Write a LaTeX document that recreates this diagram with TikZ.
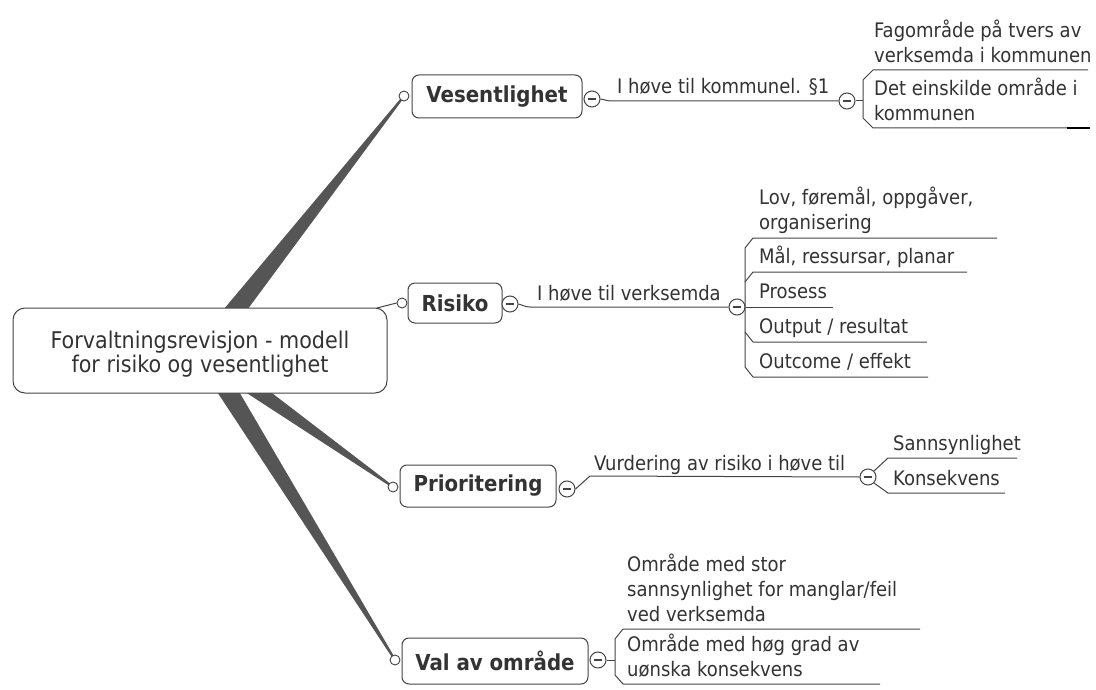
\documentclass[tikz,border=0pt]{standalone}
\usepackage{fontspec}
\setmainfont{DejaVu Sans Condensed}
\usetikzlibrary{calc}
\definecolor{txt}{HTML}{333333}
\definecolor{ln}{HTML}{444444}
\definecolor{wd}{HTML}{555555}
\newcommand\branchwedge[3]{%
  \coordinate (wB) at ($(#1)!1.2!(#2)$);
  \fill[wedge] ($(#1)!1pt!90:(#2)$) -- ($(wB)!#3!-90:(#1)$) -- ($(wB)!#3!90:(#1)$) -- ($(#1)!1pt!-90:(#2)$) -- cycle;}
\begin{document}
\begin{tikzpicture}[x=1pt,y=-1pt,
  central/.style={draw=ln, line width=1pt, rounded corners=12pt, fill=white, minimum width=374pt, minimum height=85pt, inner sep=0},
  centraltext/.style={align=center, font=\fontsize{23}{24}\selectfont, text=txt, inner sep=0},
  topic/.style={draw=ln, line width=1pt, rounded corners=7pt, fill=white, font=\bfseries\fontsize{22}{25}\selectfont, text=txt, inner sep=0},
  sub/.style={anchor=south west, align=left, inner sep=0, font=\fontsize{20}{25}\selectfont, text=txt},
  lbl/.style={anchor=base west, inner sep=0, font=\fontsize{20}{25}\selectfont, text=txt},
  knob/.style={circle, draw=ln, line width=0.9pt, fill=white, minimum size=10pt, inner sep=0},
  minus/.style={circle, draw=ln, line width=1pt, fill=white, minimum size=16pt, inner sep=0,
    path picture={\draw[ln, line width=1.3pt] ([xshift=-4pt]path picture bounding box.center) -- ([xshift=4pt]path picture bounding box.center);}},
  conn/.style={draw=ln, line width=1pt},
  wedge/.style={fill=wd, draw=none}
]
\useasboundingbox (0,0) rectangle (1096,690);
\fill[white] (0,0) rectangle (1096,690);

\coordinate (tves) at (404,96);
\coordinate (tpri) at (393,487);
\coordinate (tval) at (395,660);
\coordinate (eves) at (237,308);
\coordinate (epri) at (260,393);
\coordinate (eval) at (229,393);
\branchwedge{tves}{eves}{11pt}
\branchwedge{tpri}{epri}{8.5pt}
\branchwedge{tval}{eval}{11pt}

% central topic
\node[central] (root) at (200,350.5) {};
\node[centraltext] (roottxt) at (200,354) {Forvaltningsrevisjon - modell\\for risiko og vesentlighet};
\coordinate (rootTR) at (377,308);

% ---------- Vesentlighet ----------
\node[topic, minimum width=170pt, minimum height=43pt] (ves) at (497,96.5) {Vesentlighet};
\node[knob] (kves) at (tves) {};
\node[minus] (mves) at (592,99) {};
\node[minus] (cves) at (847,101) {};
\draw[conn] (mves.east) to[out=-10,in=180] (612,101) -- (cves.west);
\node[lbl] (lves) at (617,94) {I høve til kommunel. §1};
\draw[conn] (cves.east) -- (863,101);
\draw[conn] (1088,70) -- (873,70) -- (863,80) -- (863,118) -- (873,128) -- (1090,128);
\draw[line width=2.5pt, black] (1067,128) -- (1090,128);
\node[sub] (fag) at (874,70) {Fagområde på tvers av\\verksemda i kommunen\strut};
\node[sub] (det) at (874,128) {Det einskilde område i\\kommunen\strut};

% ---------- Risiko ----------
\node[topic, minimum width=94pt, minimum height=40pt] (ris) at (455,303) {Risiko};
\node[knob] (kris) at (402,303) {};
\draw[conn] (rootTR) -- (kris.west);
\node[minus] (mris) at (510,304) {};
\node[minus] (cris) at (737,307) {};
\draw[conn] (mris.east) to[out=-15,in=180] (530,307) -- (cris.west);
\node[lbl] (lris) at (537,300) {I høve til verksemda};
\draw[conn] (997,238) -- (753,238) -- (745,248) -- (745,367) -- (753,377) -- (928,377);
\draw[conn] (745,282) -- (753,272) -- (967,272);
\draw[conn] (cris.east) -- (833,307);
\draw[conn] (745,332) -- (753,342) -- (927,342);
\node[sub] (lov) at (759,237) {Lov, føremål, oppgåver,\\organisering\strut};
\node[sub] (maal) at (759,271) {Mål, ressursar, planar\strut};
\node[sub] (pros) at (759,306) {Prosess\strut};
\node[sub] (outp) at (759,341) {Output / resultat\strut};
\node[sub] (outc) at (759,376) {Outcome / effekt\strut};

% ---------- Prioritering ----------
\node[topic, minimum width=156pt, minimum height=42pt] (pri) at (478,486) {Prioritering};
\node[knob] (kpri) at (tpri) {};
\node[minus] (mpri) at (567,489) {};
\node[minus] (cpri) at (868,477) {};
\draw[conn] (mpri.east) -- (590,476) -- (cpri.west);
\node[lbl] (lpri) at (594,470) {Vurdering av risiko i høve til};
\draw[conn] (cpri.north east) -- (888,458) -- (1017,458);
\draw[conn] (cpri.south east) -- (888,493) -- (1005,493);
\node[sub] (sann) at (893,458) {Sannsynlighet\strut};
\node[sub] (kons) at (893,493) {Konsekvens\strut};

% ---------- Val av område ----------
\node[topic, minimum width=186pt, minimum height=46pt] (val) at (495,661) {Val av område};
\node[knob] (kval) at (tval) {};
\node[minus] (mval) at (598,660) {};
\draw[conn] (mval.east) -- (615,660);
\draw[conn] (920,629) -- (623,629) -- (615,639) -- (615,675) -- (623,684) -- (880,684);
\node[sub] (stor) at (627,629) {Område med stor\\sannsynlighet for manglar/feil\\ved verksemda\strut};
\node[sub] (hog) at (627,684) {Område med høg grad av\\uønska konsekvens\strut};
\end{tikzpicture}
\end{document}
